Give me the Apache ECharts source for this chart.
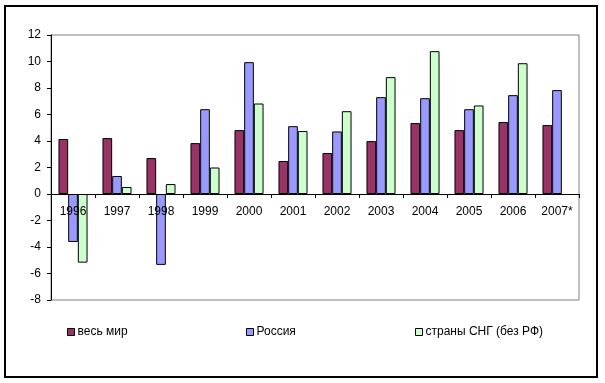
<!DOCTYPE html>
<html><head><meta charset="utf-8">
<script src="https://cdn.jsdelivr.net/npm/echarts@6/dist/echarts.min.js"></script>
<style>html,body{margin:0;padding:0;background:#fff}#c{width:605px;height:383px}</style>
</head><body><div id="c"></div>
<script>
const categories = ['1996','1997','1998','1999','2000','2001','2002','2003','2004','2005','2006','2007*'];
const world = [4.15, 4.22, 2.71, 3.84, 4.82, 2.49, 3.09, 3.99, 5.35, 4.82, 5.43, 5.2];
const russia = [-3.62, 1.36, -5.35, 6.4, 9.95, 5.12, 4.72, 7.31, 7.23, 6.4, 7.46, 7.84];
const cis = [-5.18, 0.53, 0.75, 2.0, 6.83, 4.75, 6.25, 8.82, 10.78, 6.68, 9.87, null];
const seriesNames = ['весь мир', 'Россия', 'страны СНГ (без РФ)'];
const colors = ['#993366', '#9999FF', '#CCFFCC'];
const font = '"Liberation Sans", Arial, sans-serif';

const chart = echarts.init(document.getElementById('c'), null, {renderer: 'canvas'});
const legendLefts = [62, 241, 410];
const gridTop = 35, gridBottom = 83, yMin = -8, yMax = 12;
const plotH = 383 - gridTop - gridBottom;
const zeroOffset = -Math.round(plotH * (0 - yMin) / (yMax - yMin));
chart.setOption({
  animation: false,
  textStyle: {fontFamily: font},
  graphic: [{type: 'rect', shape: {x: 5, y: 6, width: 592, height: 371}, style: {fill: null, stroke: '#000', lineWidth: 2}, silent: true}],
  grid: {left: 51, right: 26, top: gridTop, bottom: gridBottom, show: true, borderColor: '#808080', borderWidth: 1, backgroundColor: 'transparent'},
  legend: seriesNames.map((n, i) => ({
    data: [n], left: legendLefts[i], top: 321, icon: 'rect', itemWidth: 7, itemHeight: 7,
    itemStyle: {borderColor: '#000', borderWidth: 1},
    textStyle: {fontFamily: font, fontSize: 12, color: '#000', padding: [0, 0, 0, -2]}
  })),
  xAxis: {
    type: 'category', data: categories, position: 'bottom', offset: zeroOffset, z: 10,
    axisLine: {onZero: false, lineStyle: {color: '#000', width: 1}},
    axisTick: {show: true, length: 4, lineStyle: {color: '#000'}},
    axisLabel: {color: '#000', fontSize: 12, fontFamily: font, margin: 12, interval: 0},
    splitLine: {show: false}
  },
  yAxis: {
    type: 'value', min: yMin, max: yMax, interval: 2, z: 10,
    axisLine: {show: true, lineStyle: {color: '#000', width: 1}},
    axisTick: {show: true, length: 4, lineStyle: {color: '#000'}},
    axisLabel: {color: '#000', fontSize: 12, fontFamily: font, margin: 10},
    splitLine: {show: false}
  },
  series: [world, russia, cis].map((d, i) => ({
    name: seriesNames[i], type: 'bar', data: d, z: 2,
    barGap: '0%', barCategoryGap: '34%',
    itemStyle: {color: colors[i], borderColor: '#000', borderWidth: 1}
  }))
});
</script></body></html>
